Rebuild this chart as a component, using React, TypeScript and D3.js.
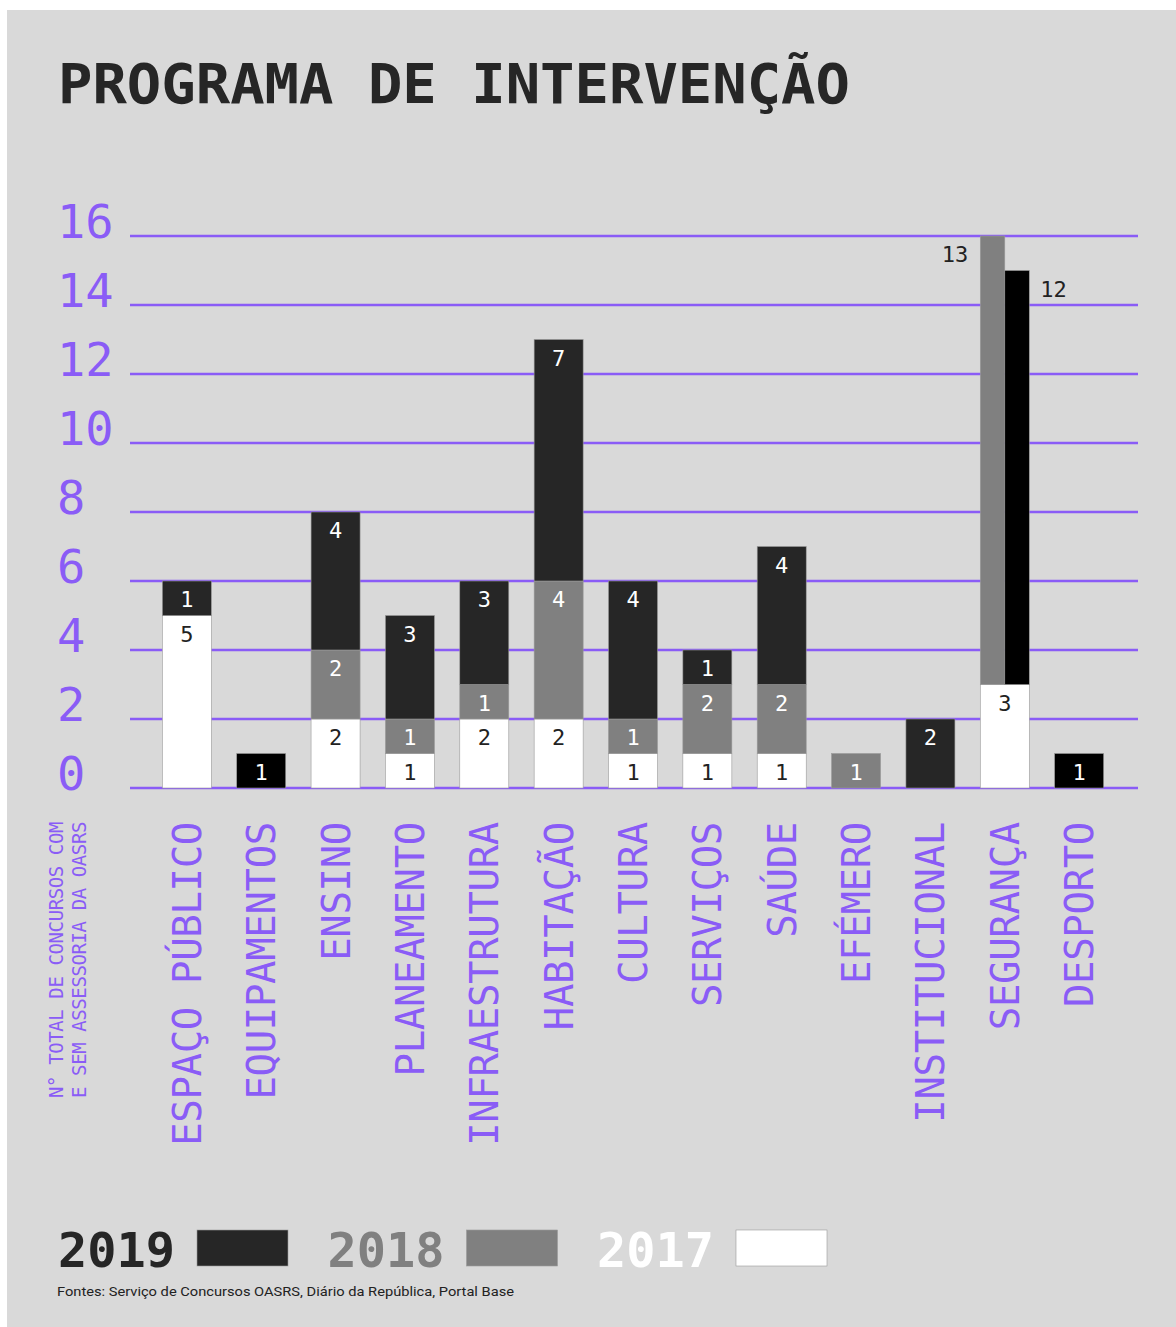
import React from "react";
import * as d3 from "d3";

const categories = [
  "ESPAÇO PÚBLICO", "EQUIPAMENTOS", "ENSINO", "PLANEAMENTO", "INFRAESTRUTURA",
  "HABITAÇÃO", "CULTURA", "SERVIÇOS", "SAÚDE", "EFÉMERO", "INSTITUCIONAL",
  "SEGURANÇA", "DESPORTO",
];
const values2017 = [5, 0, 2, 1, 2, 2, 1, 1, 1, 0, 0, 3, 0];
const values2018 = [0, 0, 2, 1, 1, 4, 1, 2, 2, 1, 0, 13, 0];
const values2019 = [1, 1, 4, 3, 3, 7, 4, 1, 4, 0, 2, 12, 1];
// category where 2018 and 2019 are drawn side by side instead of stacked
const sideBySide = ["SEGURANÇA"];
const pureBlack2019 = ["EQUIPAMENTOS", "SEGURANÇA", "DESPORTO"];
const yTicks = [0, 2, 4, 6, 8, 10, 12, 14, 16];
const legendYears = ["2019", "2018", "2017"];

const PURPLE = "#8a5cf6";
const DARK = "#262626";
const GRAY = "#808080";
const WHITE = "#ffffff";
const BG = "#d9d9d9";
const MONO = "'DejaVu Sans Mono', monospace";

export default function App() {
  const W = 1176, H = 1327;
  const y = d3.scaleLinear().domain([0, 16]).range([788, 236]);
  const x = d3.scaleBand<string>().domain(categories).range([137, 1129]).padding(0.341);
  const bw = x.bandwidth();
  const legendX = d3.scaleLinear().domain([0, 1]).range([58, 327.5]);

  const segs: any[] = [];
  const labels: any[] = [];
  categories.forEach((c, i) => {
    const x0 = x(c)!;
    let base = 0;
    const v17 = values2017[i];
    if (v17 > 0) {
      segs.push({ x: x0, w: bw, y0: base, y1: base + v17, fill: WHITE });
      labels.push({ x: x0 + bw / 2, yTop: base + v17, t: v17, fill: "#222", anchor: "middle" });
      base += v17;
    }
    const black = pureBlack2019.includes(c) ? "#000" : DARK;
    if (sideBySide.includes(c)) {
      const hw = bw / 2;
      segs.push({ x: x0, w: hw, y0: base, y1: base + values2018[i], fill: GRAY });
      labels.push({ x: x0 - 12, yTop: base + values2018[i], t: values2018[i], fill: "#222", anchor: "end" });
      segs.push({ x: x0 + hw, w: hw, y0: base, y1: base + values2019[i], fill: black });
      labels.push({ x: x0 + bw + 11, yTop: base + values2019[i], t: values2019[i], fill: "#222", anchor: "start" });
      return;
    }
    const v18 = values2018[i];
    if (v18 > 0) {
      segs.push({ x: x0, w: bw, y0: base, y1: base + v18, fill: GRAY });
      labels.push({ x: x0 + bw / 2, yTop: base + v18, t: v18, fill: "#fff", anchor: "middle" });
      base += v18;
    }
    const v19 = values2019[i];
    if (v19 > 0) {
      segs.push({ x: x0, w: bw, y0: base, y1: base + v19, fill: black });
      labels.push({ x: x0 + bw / 2, yTop: base + v19, t: v19, fill: "#fff", anchor: "middle" });
      base += v19;
    }
  });

  const legendColors = [DARK, GRAY, WHITE];

  return (
    <svg width={W} height={H} style={{ position: "absolute", left: 0, top: 0 }}>
      <rect x={7} y={10} width={W - 7} height={H - 10} fill={BG} />
      <text x={58} y={103} fontFamily={MONO} fontWeight="bold" fontSize={56} fill="#262626"
        textLength={792} lengthAdjust="spacingAndGlyphs">PROGRAMA DE INTERVENÇÃO</text>

      {yTicks.map((t) => (
        <g key={t}>
          <line x1={130} x2={1138} y1={y(t)} y2={y(t)} stroke={PURPLE} strokeWidth={2.5} />
          <text x={57} y={y(t) + 2} fontFamily={MONO} fontSize={47} fill={PURPLE}>{t}</text>
        </g>
      ))}

      {segs.map((s, k) => (
        <rect key={k} x={s.x} width={s.w} y={y(s.y1)} height={y(s.y0) - y(s.y1)}
          fill={s.fill} stroke="#9a9a9a" strokeWidth={0.6} />
      ))}
      {labels.map((l, k) => (
        <text key={k} x={l.x} y={y(l.yTop) + 26} textAnchor={l.anchor} fontFamily={MONO}
          fontSize={22} fill={l.fill}>{l.t}</text>
      ))}

      {categories.map((c) => {
        const cx = x(c)! + bw / 2;
        return (
          <text key={c} transform={`translate(${cx + 14},822) rotate(-90)`} textAnchor="end"
            fontFamily={MONO} fontSize={39} fill={PURPLE} letterSpacing={-0.35}>{c}</text>
        );
      })}

      <text transform="translate(63,822) rotate(-90)" textAnchor="end" fontFamily={MONO}
        fontSize={19} fill={PURPLE} letterSpacing={-0.4}>N° TOTAL DE CONCURSOS COM</text>
      <text transform="translate(86,822) rotate(-90)" textAnchor="end" fontFamily={MONO}
        fontSize={19} fill={PURPLE} letterSpacing={-0.4}>E SEM ASSESSORIA DA OASRS</text>

      {legendYears.map((yr, i) => {
        const lx = legendX(i);
        return (
          <g key={yr}>
            <text x={lx} y={1267} fontFamily={MONO} fontWeight="bold" fontSize={48}
              fill={legendColors[i]} textLength={117} lengthAdjust="spacingAndGlyphs">{yr}</text>
            <rect x={lx + 139} y={1230} width={91} height={36} fill={legendColors[i]}
              stroke="#9a9a9a" strokeWidth={0.6} />
          </g>
        );
      })}

      <text x={57} y={1296} fontFamily="Roboto, sans-serif" fontSize={13.5} fill="#222"
        textLength={457} lengthAdjust="spacingAndGlyphs">
        Fontes: Serviço de Concursos OASRS, Diário da República, Portal Base
      </text>
    </svg>
  );
}
